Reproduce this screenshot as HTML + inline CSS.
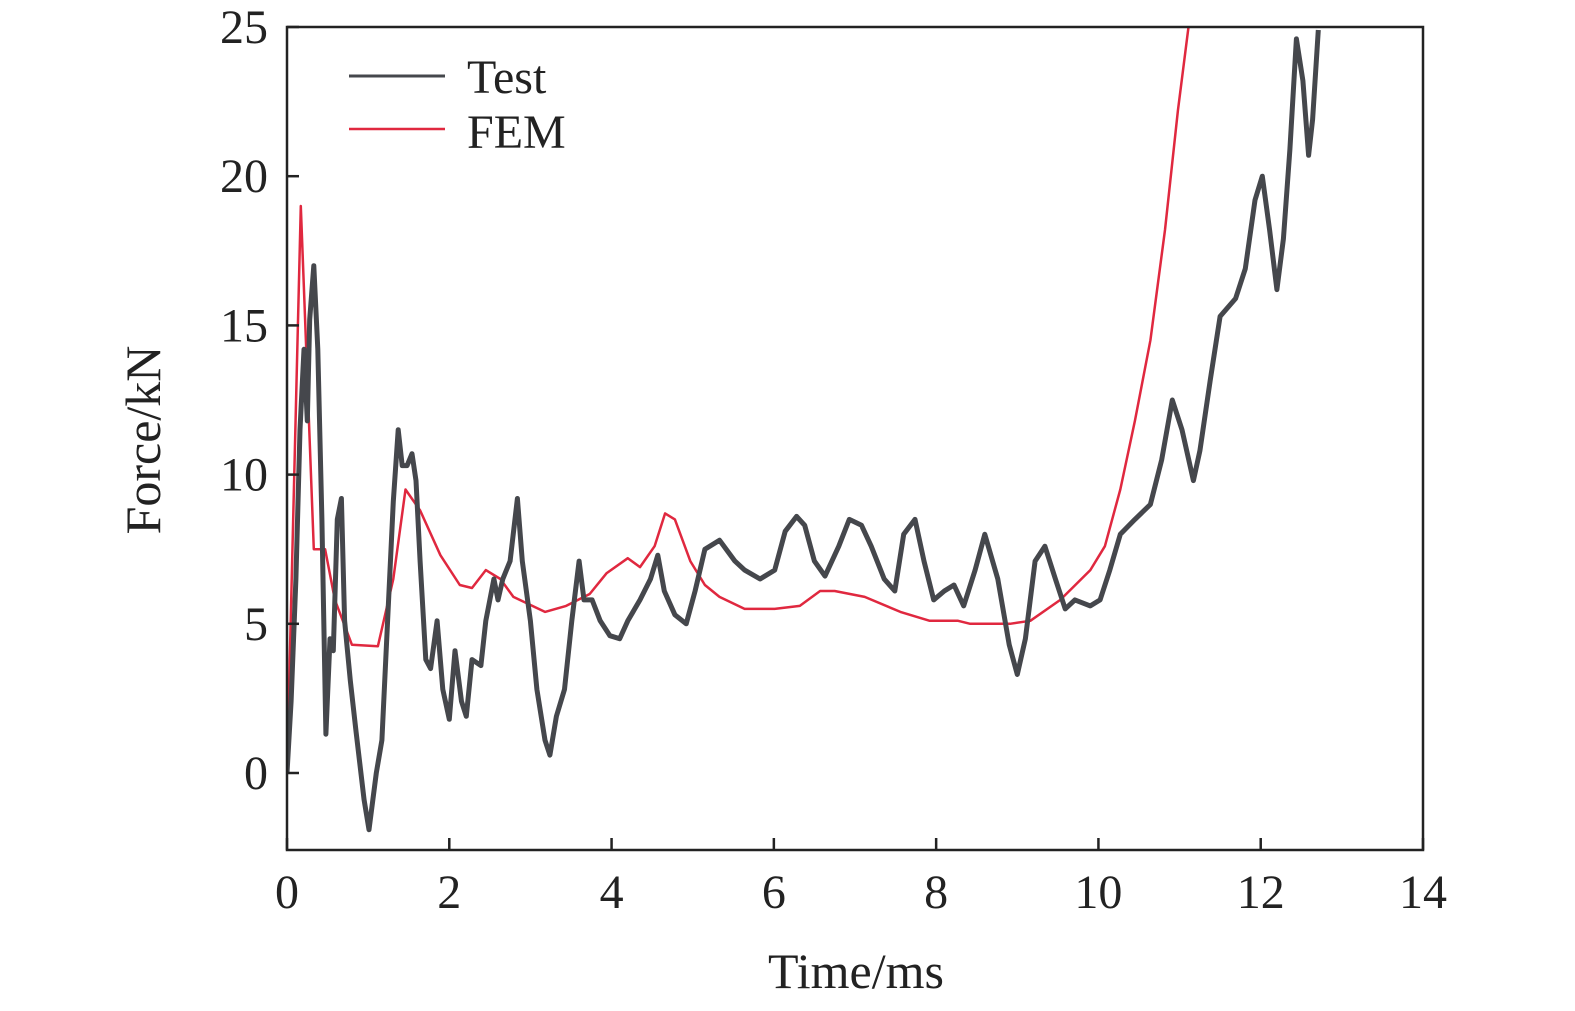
<!DOCTYPE html>
<html><head><meta charset="utf-8"><style>
html,body{margin:0;padding:0;background:#fff;}
svg{display:block;}
text{font-family:"Liberation Serif",serif;fill:#222;}
</style></head><body>
<svg id="chart" width="1575" height="1011" viewBox="0 0 1575 1011">
<defs><clipPath id="plotclip"><rect x="287" y="27" width="1136" height="823"/></clipPath></defs>
<g id="series" clip-path="url(#plotclip)"></g>
<rect x="287" y="27" width="1136" height="823" fill="none" stroke="#222" stroke-width="2.5"/>
<g id="axes"></g>
<text x="856" y="988" font-size="50" text-anchor="middle">Time/ms</text>
<text transform="translate(160,440) rotate(-90)" font-size="50" text-anchor="middle">Force/kN</text>
<g>
<line x1="349" y1="76" x2="445" y2="76" stroke="#45474c" stroke-width="3"/>
<text x="467" y="93" font-size="48">Test</text>
<line x1="349" y1="129" x2="445" y2="129" stroke="#e0283f" stroke-width="2.5"/>
<text x="467" y="148" font-size="48">FEM</text>
</g>
</svg>
<script>
const xTicks=[0,2,4,6,8,10,12,14];
const yTicks=[0,5,10,15,20,25];
const testT=[0,0.05,0.11,0.16,0.21,0.25,0.28,0.33,0.38,0.43,0.48,0.53,0.57,0.62,0.67,0.71,0.78,0.85,0.95,1.01,1.1,1.17,1.24,1.31,1.37,1.42,1.48,1.54,1.59,1.64,1.71,1.77,1.85,1.92,2.0,2.07,2.15,2.21,2.28,2.39,2.45,2.55,2.6,2.66,2.75,2.84,2.9,3.0,3.08,3.18,3.24,3.32,3.42,3.51,3.6,3.66,3.76,3.86,3.98,4.1,4.2,4.35,4.48,4.57,4.65,4.78,4.92,5.03,5.15,5.33,5.52,5.64,5.83,6.01,6.14,6.28,6.38,6.5,6.63,6.8,6.93,7.08,7.2,7.36,7.49,7.6,7.74,7.85,7.97,8.1,8.22,8.34,8.48,8.6,8.76,8.9,9.0,9.1,9.22,9.34,9.47,9.59,9.71,9.9,10.02,10.14,10.27,10.45,10.64,10.78,10.91,11.03,11.17,11.25,11.38,11.5,11.69,11.81,11.93,12.02,12.11,12.2,12.28,12.36,12.44,12.52,12.59,12.64,12.71];
const testF=[0,2.4,6.5,11.5,14.2,11.8,15.2,17,14.2,8.5,1.3,4.5,4.1,8.5,9.2,5.1,3.1,1.4,-0.9,-1.9,0,1.1,5.1,9.1,11.5,10.3,10.3,10.7,9.8,7.1,3.8,3.5,5.1,2.8,1.8,4.1,2.4,1.9,3.8,3.6,5.1,6.5,5.8,6.5,7.1,9.2,7.1,5.1,2.8,1.1,0.6,1.9,2.8,5.1,7.1,5.8,5.8,5.1,4.6,4.5,5.1,5.8,6.5,7.3,6.1,5.3,5.0,6.1,7.5,7.8,7.1,6.8,6.5,6.8,8.1,8.6,8.3,7.1,6.6,7.6,8.5,8.3,7.6,6.5,6.1,8.0,8.5,7.1,5.8,6.1,6.3,5.6,6.8,8.0,6.5,4.3,3.3,4.5,7.1,7.6,6.5,5.5,5.8,5.6,5.8,6.8,8.0,8.5,9.0,10.5,12.5,11.5,9.8,10.8,13.2,15.3,15.9,16.9,19.2,20.0,18.2,16.2,17.9,20.9,24.6,23.2,20.7,21.9,24.9];
const femT=[0,0.17,0.33,0.47,0.59,0.8,1.12,1.31,1.46,1.64,1.89,2.13,2.28,2.45,2.63,2.79,3.18,3.44,3.73,3.94,4.2,4.35,4.53,4.66,4.78,4.97,5.15,5.33,5.64,6.01,6.32,6.57,6.75,7.12,7.56,7.92,8.1,8.27,8.42,8.66,8.91,9.16,9.53,9.9,10.08,10.27,10.45,10.64,10.82,10.98,11.11];
const femF=[0,19.0,7.5,7.5,5.8,4.3,4.25,6.5,9.5,8.8,7.3,6.3,6.2,6.8,6.5,5.9,5.4,5.6,6.0,6.7,7.2,6.9,7.6,8.7,8.5,7.1,6.3,5.9,5.5,5.5,5.6,6.1,6.1,5.9,5.4,5.1,5.1,5.1,5.0,5.0,5.0,5.1,5.8,6.8,7.6,9.5,11.8,14.5,18.2,22.2,25];
const NS="http://www.w3.org/2000/svg";
function sx(t){return 287+t*(1136/14);}
function sy(v){return 773-v*29.84;}
const axes=document.getElementById('axes');
const series=document.getElementById('series');
xTicks.forEach(t=>{
  const l=document.createElementNS(NS,'line');
  l.setAttribute('x1',sx(t));l.setAttribute('x2',sx(t));l.setAttribute('y1',850);l.setAttribute('y2',838);
  l.setAttribute('stroke','#222');l.setAttribute('stroke-width','2.5');
  
  
  axes.appendChild(l);
  const tx=document.createElementNS(NS,'text');
  tx.setAttribute('x',sx(t));tx.setAttribute('y',908);tx.setAttribute('font-size','48');tx.setAttribute('text-anchor','middle');
  tx.textContent=t;
  
  
  axes.appendChild(tx);
});
yTicks.forEach(v=>{
  const l=document.createElementNS(NS,'line');
  l.setAttribute('x1',287);l.setAttribute('x2',299);l.setAttribute('y1',sy(v));l.setAttribute('y2',sy(v));
  l.setAttribute('stroke','#222');l.setAttribute('stroke-width','2.5');
  
  
  axes.appendChild(l);
  const tx=document.createElementNS(NS,'text');
  tx.setAttribute('x',268);tx.setAttribute('y',sy(v)+16);tx.setAttribute('font-size','48');tx.setAttribute('text-anchor','end');
  tx.textContent=v;
  
  
  axes.appendChild(tx);
});
function line(ts,vs,color,w,name){
  const p=document.createElementNS(NS,'polyline');
  p.setAttribute('points',ts.map((t,i)=>sx(t).toFixed(1)+','+sy(vs[i]).toFixed(1)).join(' '));
  p.setAttribute('fill','none');p.setAttribute('stroke',color);p.setAttribute('stroke-width',w);
  p.setAttribute('stroke-linejoin','round');
  
  
  series.appendChild(p);
}
line(femT,femF,'#e0283f',2.5,'fem-line');
line(testT,testF,'#45474c',5,'test-line');
</script>
</body></html>
